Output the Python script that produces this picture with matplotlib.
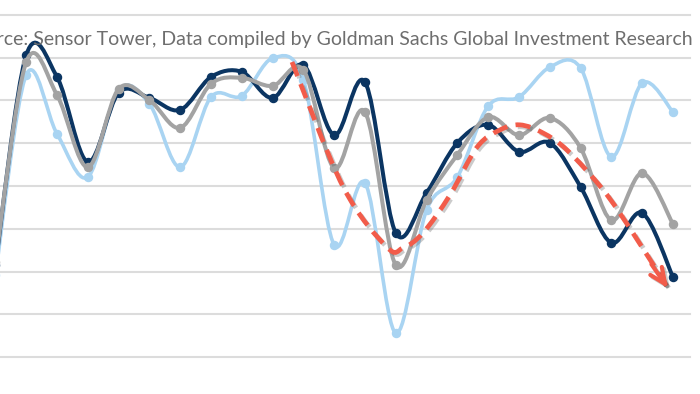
import numpy as np
import matplotlib
matplotlib.use('Agg')
import matplotlib.pyplot as plt
from matplotlib.path import Path
from matplotlib.patches import PathPatch
import matplotlib.patheffects as pe

plt.rcParams['font.family'] = ['Lato', 'DejaVu Sans']

# one point per period, index units (first point sits just off the left edge)
periods = list(range(23))

navy = [21.5, 70.6, 65.5, 45.6, 61.8, 60.6, 57.8, 65.5, 66.7, 60.6, 68.3, 51.9,
        64.3, 29.0, 38.4, 50.1, 54.3, 48.0, 50.1, 39.8, 26.7, 33.7, 18.7]
grey = [22.2, 69.0, 61.3, 44.4, 62.7, 60.1, 53.6, 63.9, 65.3, 63.4, 67.1, 44.2,
        57.3, 21.5, 36.7, 47.3, 56.1, 51.9, 55.9, 48.9, 32.0, 43.0, 31.1]
light = [19.2, 66.0, 52.2, 42.1, 62.5, 59.2, 44.4, 60.8, 61.1, 69.9, 64.8, 26.2,
         40.7, 5.6, 34.4, 42.1, 58.7, 60.8, 67.8, 67.6, 46.8, 64.1, 57.3]

# red trend annotation, in the same index / value units
trend_x = [9.63, 11.29, 12.71, 13.23, 13.88, 14.76, 15.64, 16.38, 17.03, 17.78,
           18.56, 19.73, 20.70, 21.84]
trend_y = [69.0, 39.8, 25.7, 25.5, 29.0, 37.9, 49.1, 53.1, 54.3, 52.4,
           48.4, 39.1, 29.0, 16.1]

source = "Source: Sensor Tower, Data compiled by Goldman Sachs Global Investment Research"


def smooth(xs, ys):
    # excel-like smoothed line: catmull-rom turned into cubic bezier segments
    n = len(xs)
    verts = [(xs[0], ys[0])]
    codes = [Path.MOVETO]
    for k in range(n - 1):
        a = max(k - 1, 0)
        b = min(k + 2, n - 1)
        c1 = (xs[k] + (xs[k + 1] - xs[a]) / 6, ys[k] + (ys[k + 1] - ys[a]) / 6)
        c2 = (xs[k + 1] - (xs[b] - xs[k]) / 6, ys[k + 1] - (ys[b] - ys[k]) / 6)
        verts += [c1, c2, (xs[k + 1], ys[k + 1])]
        codes += [Path.CURVE4] * 3
    return Path(verts, codes)


fig = plt.figure(figsize=(7, 3.94), dpi=100)
ax = fig.add_axes([0, 0, 1, 1])
ax.set_xlim(0.149, 22.877)
ax.set_ylim(-8.65, 83.5)
ax.axis('off')

for g in range(0, 81, 10):
    ax.axhline(g, xmin=0, xmax=690 / 700, color='#dcdcdc', lw=1.5, zorder=1)

series = [(light, '#a9d4f2', 2.6, 2), (navy, '#0b3562', 2.9, 3), (grey, '#a3a3a3', 2.9, 4)]
for vals, col, lw, z in series:
    ax.add_patch(PathPatch(smooth(periods, vals), fill=False, edgecolor=col, lw=lw,
                           capstyle='round', joinstyle='round', zorder=z))
    ax.plot(periods, vals, 'o', color=col, ms=5.8, zorder=z)

shadow = [pe.SimpleLineShadow(offset=(1.5, -1.5), shadow_color='#555555', alpha=0.3),
          pe.Normal()]
ax.add_patch(PathPatch(smooth(trend_x, trend_y), fill=False, edgecolor='#f25c4a', lw=3.4,
                       linestyle=(0, (3.2, 1.8)), zorder=6, path_effects=shadow))
ax.annotate('', xy=(trend_x[-1], trend_y[-1]), xytext=(trend_x[-2] + 0.6, trend_y[-2] - 7.3),
            arrowprops=dict(arrowstyle='->,head_length=0.95,head_width=0.42', color='#f25c4a',
                            lw=3.0, shrinkA=0, shrinkB=0, mutation_scale=12,
                            path_effects=shadow),
            zorder=6)

fig.text(693 / 700, 1 - 45 / 394, source, ha='right', va='baseline', fontsize=14,
         color='#6e6e6e')

fig.savefig('out.png', dpi=100, facecolor='white')
